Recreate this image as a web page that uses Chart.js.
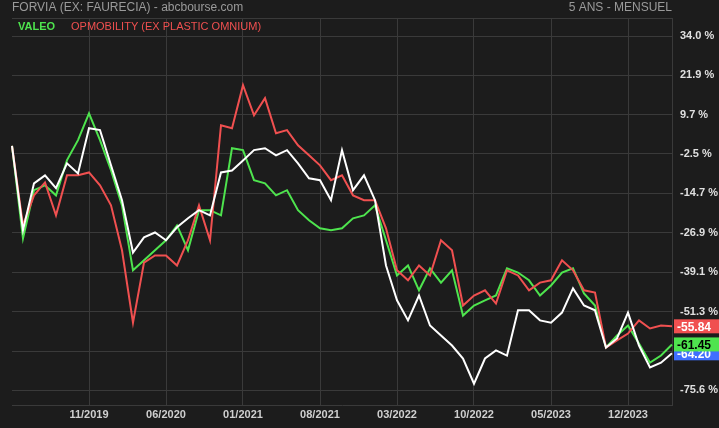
<!DOCTYPE html><html><head><meta charset="utf-8">
<script src="https://cdn.jsdelivr.net/npm/chart.js@4/dist/chart.umd.min.js"></script>
<style>html,body{margin:0;background:#1c1c1c}#w{width:719px;height:428px}</style></head><body><div id="w"><canvas id="c"></canvas></div>
<script>
const months=[];(function(){let y=2019,m=4;for(let i=0;i<61;i++){months.push(String(m).padStart(2,'0')+'/'+y);m++;if(m>12){m=1;y++;}}})();
const shownLabels=['11/2019','06/2020','01/2021','08/2021','03/2022','10/2022','05/2023','12/2023'];
const yTicks=[34.0,21.9,9.7,-2.5,-14.7,-26.9,-39.1,-51.3,-63.5,-75.6];
const forvia=[0,-26.1,-11.6,-9.1,-13.1,-5.4,-8.5,5.5,4.9,-6.0,-16.8,-33.0,-28.3,-26.8,-29.2,-25.2,-22.4,-19.9,-21.5,-8.2,-7.6,-4.5,-1.3,-0.7,-2.9,-1.3,-5.4,-10.0,-10.6,-16.8,-1.3,-13.7,-9.1,-16.8,-37.0,-47.8,-54.0,-46.3,-55.6,-58.7,-61.8,-65.8,-73.6,-65.8,-63.3,-64.9,-50.9,-50.9,-54.0,-54.7,-51.6,-44.1,-49.4,-50.9,-62.4,-59.6,-51.6,-61.8,-68.6,-67.1,-64.2];
const valeo=[0,-28.6,-13.7,-12.2,-15.3,-4.4,1.8,10.1,1.8,-7.5,-18.4,-38.5,-35.4,-32.3,-29.2,-24.6,-32.3,-19.9,-19.9,-21.5,-0.7,-1.3,-10.6,-11.6,-15.3,-13.7,-19.9,-23.0,-25.5,-26.1,-25.5,-22.4,-21.5,-18.4,-29.2,-40.1,-37.0,-44.7,-37.9,-42.3,-38.5,-52.5,-49.4,-47.8,-46.3,-37.9,-39.2,-41.6,-46.3,-43.2,-39.2,-37.9,-45.7,-49.4,-62.4,-58.7,-55.6,-61.2,-67.1,-64.9,-61.45];
const opm=[0,-24.6,-15.3,-11.3,-21.5,-9.1,-9.1,-8.2,-12.2,-18.4,-32.3,-54.7,-36.1,-33.9,-33.9,-37.0,-29.2,-18.4,-29.2,6.4,5.5,18.8,9.5,14.8,3.9,4.9,0.2,-2.9,-6.0,-10.6,-9.1,-15.3,-16.8,-16.8,-25.5,-38.5,-41.6,-37.0,-40.1,-29.2,-32.3,-49.4,-46.3,-44.7,-48.8,-38.5,-40.1,-44.7,-42.3,-41.6,-35.4,-38.5,-44.7,-45.4,-62.4,-60.2,-58.1,-54.0,-56.5,-55.6,-55.84];
const lastLabels=[{d:opm,t:'-55.84',bg:'#f05050',fg:'#fff'},{d:valeo,t:'-61.45',bg:'#4ee44e',fg:'#000'},{d:forvia,t:'-64.20',bg:'#3f6fff',fg:'#fff'}];
const deco={id:'deco',afterDraw(ch){const c=ch.ctx,a=ch.chartArea,y=ch.scales.y;c.save();
c.font='12px Arial';c.fillStyle='#9a9a9a';c.textBaseline='middle';c.textAlign='left';c.fillText('FORVIA (EX: FAURECIA) - abcbourse.com',12,8);
c.textAlign='right';c.fillText('5 ANS - MENSUEL',672,8);
c.textAlign='left';c.fillStyle='#4ee44e';c.font='bold 11px Arial';c.fillText('VALEO',18,27);
c.fillStyle='#f05050';c.font='11px Arial';c.fillText('OPMOBILITY (EX PLASTIC OMNIUM)',71,27);
c.strokeStyle='#3a3a3a';c.lineWidth=1;c.beginPath();c.moveTo(a.left,a.top+0.5);c.lineTo(a.right,a.top+0.5);c.stroke();
const ord=[2,1,0];ord.forEach(k=>{const L=lastLabels[k];const py=y.getPixelForValue(L.d[L.d.length-1]);
c.fillStyle=L.bg;c.fillRect(a.right+2,py-7,45,14);c.fillStyle=L.fg;c.font='bold 12px Arial';c.textAlign='left';c.fillText(L.t,a.right+5,py+1);});
c.restore();}};
new Chart(document.getElementById('c'),{type:'line',data:{labels:months,datasets:[
{data:forvia,borderColor:'#ffffff'},{data:opm,borderColor:'#f05050'},{data:valeo,borderColor:'#4ee44e'}]},
options:{responsive:true,maintainAspectRatio:false,animation:false,devicePixelRatio:1,
elements:{point:{radius:0},line:{borderWidth:2,tension:0}},
layout:{padding:{top:18,left:12,right:0,bottom:0}},
plugins:{legend:{display:false},tooltip:{enabled:false}},
scales:{x:{offset:false,grid:{color:ctx=>shownLabels.includes(months[ctx.index])?'#3a3a3a':'rgba(0,0,0,0)',drawTicks:false},border:{color:'#3a3a3a'},
ticks:{autoSkip:false,maxRotation:0,color:'#cfcfcf',font:{family:'Arial',size:11,weight:'bold'},padding:3,callback:(v,i)=>shownLabels.includes(months[i])?months[i]:''},afterFit:s=>{s.height=23;}},
y:{position:'right',min:-80.2,max:39.6,afterBuildTicks:s=>{s.ticks=yTicks.map(v=>({value:v}));},afterFit:s=>{s.width=47;},
grid:{color:'#3a3a3a',drawTicks:false},border:{color:'#3a3a3a'},
ticks:{color:'#e0e0e0',font:{family:'Arial',size:11,weight:'bold'},padding:8,callback:v=>v.toFixed(1)+' %'}}}},
plugins:[deco]});
</script></body></html>
